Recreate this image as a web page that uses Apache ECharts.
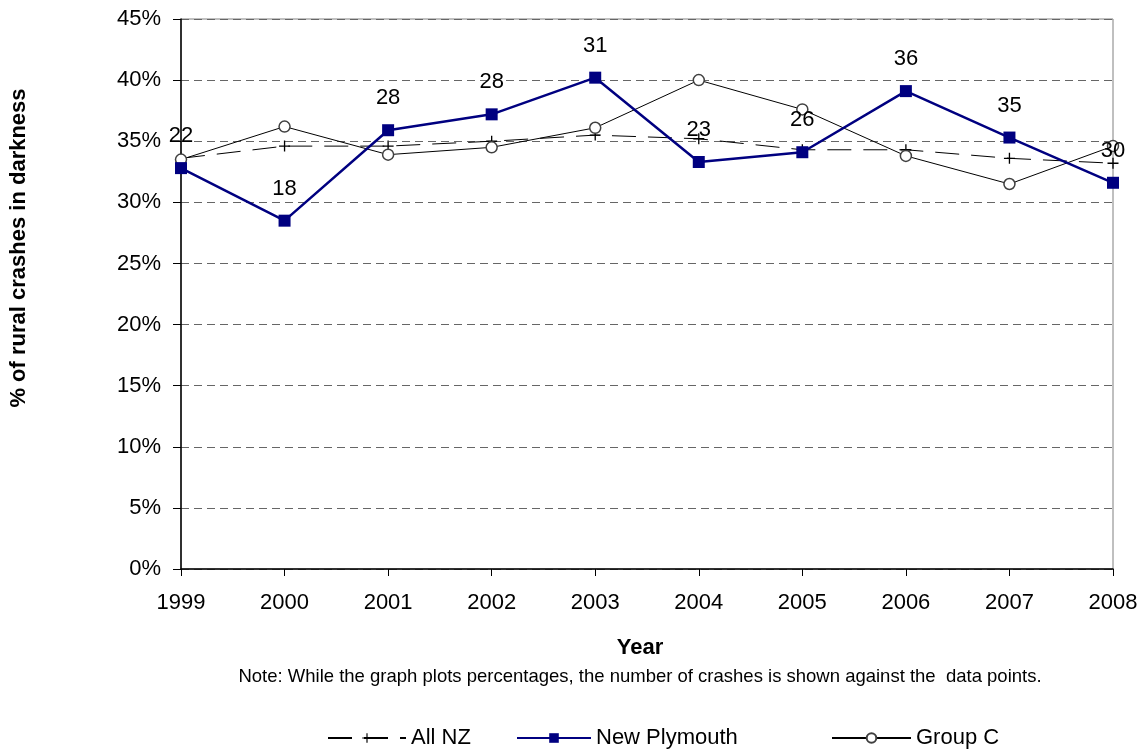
<!DOCTYPE html>
<html>
<head>
<meta charset="utf-8">
<title>Rural crashes in darkness</title>
<script src="https://cdn.jsdelivr.net/npm/echarts@6/dist/echarts.min.js"></script>
<style>
	html, body { margin: 0; padding: 0; background: #fff; }
	#chart { width: 1145px; height: 754px; }
</style>
</head>
<body>
<div id="chart"></div>
<script>
// 年份（横轴）
var years = ['1999', '2000', '2001', '2002', '2003', '2004', '2005', '2006', '2007', '2008'];
// 各序列百分比
var allNZ = [33.6, 34.6, 34.6, 35.0, 35.5, 35.2, 34.3, 34.3, 33.6, 33.2];
var newPlymouth = [32.8, 28.5, 35.9, 37.2, 40.2, 33.3, 34.1, 39.1, 35.3, 31.6];
var groupC = [33.5, 36.2, 33.9, 34.5, 36.1, 40.0, 37.6, 33.8, 31.5, 34.6];
// 新普利茅斯的事故数量（标签）
var npCounts = [22, 18, 28, 28, 31, 23, 26, 36, 35, 30];

var font = 'Liberation Sans, Arial, sans-serif';
// 加号标记
var plusSymbol = 'path://M0,4.4H10V5.6H0Z M4.4,0H5.6V10H4.4Z';

/**
 * 单个图例
 */
function makeLegend(name, left, width) {
	return {
		data: [name],
		left: left,
		top: 727,
		padding: 0,
		itemWidth: width,
		itemHeight: 12,
		itemGap: 6,
		textStyle: { fontSize: 22, color: '#000', fontFamily: font }
	};
}

var myChart = echarts.init(document.getElementById('chart'));

var option = {
	backgroundColor: '#fff',
	animation: false,
	textStyle: { fontFamily: font },
	grid: {
		left: 181,
		right: 32,
		top: 19,
		bottom: 185,
		show: true,
		borderColor: '#808080',
		borderWidth: 1
	},
	legend: [
		makeLegend('All NZ', 327, 78),
		makeLegend('New Plymouth', 516, 74),
		makeLegend('Group C', 831, 79)
	],
	graphic: [
		{
			type: 'text',
			x: 19,
			y: 248,
			rotation: Math.PI / 2,
			style: {
				text: '% of rural crashes in darkness',
				font: 'bold 22px ' + font,
				fill: '#000',
				textAlign: 'center',
				textVerticalAlign: 'middle'
			}
		},
		{
			type: 'text',
			x: 640,
			y: 648,
			style: {
				text: 'Year',
				font: 'bold 22px ' + font,
				fill: '#000',
				textAlign: 'center',
				textVerticalAlign: 'middle'
			}
		},
		{
			type: 'text',
			x: 640,
			y: 677,
			style: {
				text: 'Note: While the graph plots percentages, the number of crashes is shown against the  data points.',
				font: '18.5px ' + font,
				fill: '#000',
				textAlign: 'center',
				textVerticalAlign: 'middle'
			}
		}
	],
	xAxis: {
		type: 'category',
		data: years,
		boundaryGap: false,
		axisLine: { lineStyle: { color: '#000', width: 1.5 } },
		axisTick: { show: true, length: 7, lineStyle: { color: '#000' } },
		axisLabel: { fontSize: 22, color: '#000', margin: 23, fontFamily: font },
		splitLine: { show: false }
	},
	yAxis: {
		type: 'value',
		min: 0,
		max: 45,
		interval: 5,
		axisLine: { show: true, lineStyle: { color: '#000', width: 1.5 } },
		axisTick: { show: true, length: 8, lineStyle: { color: '#000' } },
		axisLabel: { fontSize: 22, color: '#000', margin: 20, formatter: '{value}%', fontFamily: font },
		splitLine: { show: true, lineStyle: { color: '#666', type: [8, 5], width: 1 } }
	},
	series: [
		{
			name: 'All NZ',
			type: 'line',
			data: allNZ,
			symbol: plusSymbol,
			symbolSize: 11,
			itemStyle: { color: '#000' },
			lineStyle: { color: '#000', width: 1, type: [24, 12] },
			z: 2
		},
		{
			name: 'New Plymouth',
			type: 'line',
			data: newPlymouth,
			symbol: 'rect',
			symbolSize: 12,
			itemStyle: { color: '#000080' },
			lineStyle: { color: '#000080', width: 2.5 },
			label: {
				show: true,
				position: 'top',
				distance: 15,
				fontSize: 22,
				color: '#000',
				fontFamily: font,
				formatter: function(p) {
					return npCounts[p.dataIndex];
				}
			},
			z: 4
		},
		{
			name: 'Group C',
			type: 'line',
			data: groupC,
			symbol: 'circle',
			symbolSize: 11,
			showAllSymbol: true,
			itemStyle: { color: '#fff', borderColor: '#404040', borderWidth: 1.5 },
			lineStyle: { color: '#000', width: 1 },
			z: 3
		}
	]
};

myChart.setOption(option);
</script>
</body>
</html>
